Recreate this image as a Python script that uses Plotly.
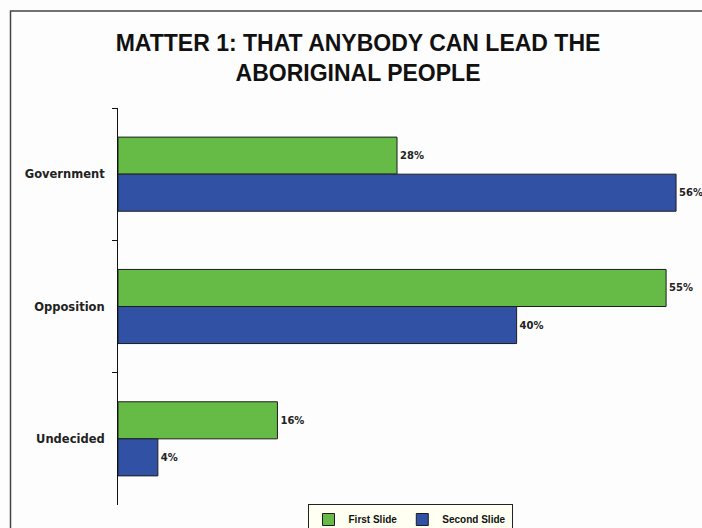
import plotly.graph_objects as go

categories = ["Government", "Opposition", "Undecided"]
first_slide = [28, 55, 16]
second_slide = [56, 40, 4]
series_names = ["First Slide", "Second Slide"]
title_text = "MATTER 1: THAT ANYBODY CAN LEAD THE<br>ABORIGINAL PEOPLE"

GREEN = "#66BB46"
BLUE = "#3152A4"
EDGE = "#1e1e1e"

label_font = dict(family="DejaVu Sans", size=10, color="#222222", weight="bold")

fig = go.Figure()
for name, vals, col in [(series_names[0], first_slide, GREEN), (series_names[1], second_slide, BLUE)]:
    fig.add_trace(go.Bar(
        y=categories, x=vals, name=name, orientation="h",
        marker=dict(color=col, line=dict(color=EDGE, width=1)),
        text=[f"{v}%" for v in vals], textposition="outside",
        textfont=label_font, cliponaxis=False,
        hoverinfo="x+y",
    ))

W, H = 702, 528
L, R, T, B = 118, 8, 108, 23
pw, ph = W - L - R, H - T - B

def px(x):
    return (x - L) / pw

def py(y):
    return (H - B - y) / ph

fig.update_layout(
    width=W, height=H,
    margin=dict(l=L, r=R, t=T, b=B, autoexpand=False),
    paper_bgcolor="#fdfdfd", plot_bgcolor="#fdfdfd",
    barmode="group", bargap=0.44, bargroupgap=0,
    title=dict(
        text=title_text, x=0.51, xanchor="center", xref="container",
        y=1 - 51 / H, yanchor="top", yref="container",
        font=dict(family="Liberation Sans Narrow, Arial Narrow, Liberation Sans", size=23,
                  color="#111111", weight="bold"),
    ),
    xaxis=dict(range=[0, 57.8], showticklabels=False, showgrid=False, zeroline=False,
               showline=False, ticks=""),
    yaxis=dict(autorange="reversed", showline=True, linecolor="#111111", linewidth=1,
               ticks="outside", ticklen=5, tickcolor="#111111", tickson="boundaries",
               showgrid=False, zeroline=False, ticklabelstandoff=10,
               tickfont=dict(family="DejaVu Sans", size=11.5, color="#222222", weight="bold")),
    legend=dict(orientation="h", x=px(410), xanchor="center", y=py(504), yanchor="top",
                bgcolor="#fffff2", bordercolor="#222222", borderwidth=1,
                font=dict(family="Liberation Sans", size=10, color="#111111", weight="bold"),
                itemwidth=30, tracegroupgap=0),
    showlegend=True,
)

fig.add_shape(type="rect", xref="paper", yref="paper",
              x0=px(10.5), x1=px(712), y0=py(540), y1=py(11),
              line=dict(color="#444444", width=1.5), fillcolor="rgba(0,0,0,0)", layer="above")

fig.write_html("out.html", config={"displayModeBar": False},
               post_script="document.body.style.margin='0';document.body.style.overflow='hidden';")
